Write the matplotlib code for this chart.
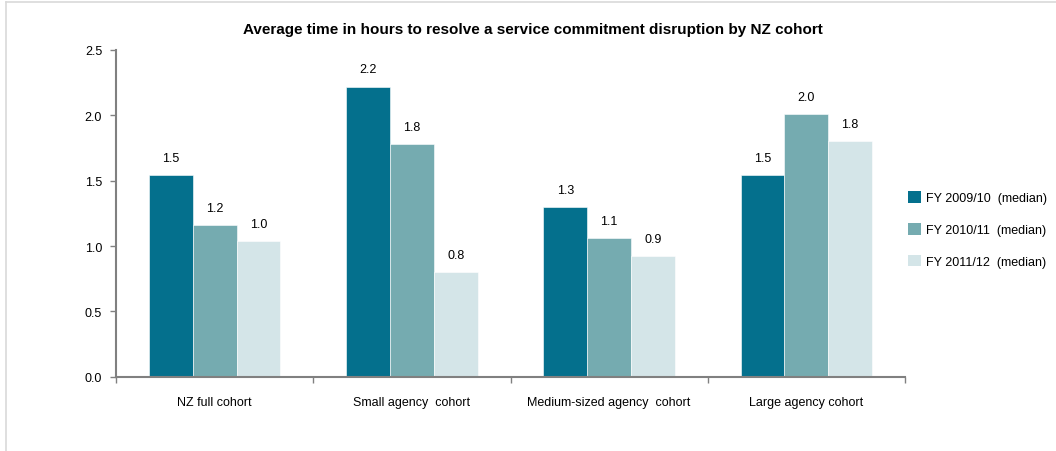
import matplotlib.pyplot as plt
import numpy as np
from matplotlib.patches import Patch
from matplotlib.lines import Line2D

plt.rcParams['font.family'] = ['Liberation Sans', 'DejaVu Sans']

# Median hours per cohort and financial year
cohorts = ['NZ full cohort', 'Small agency  cohort', 'Medium-sized agency  cohort', 'Large agency cohort']
years = ['FY 2009/10  (median)', 'FY 2010/11  (median)', 'FY 2011/12  (median)']
fy0910 = [1.54, 2.22, 1.30, 1.54]
fy1011 = [1.16, 1.78, 1.06, 2.01]
fy1112 = [1.04, 0.80, 0.92, 1.80]
colors = ['#04708d', '#75abb0', '#d4e5e8']

fig = plt.figure(figsize=(10.56, 4.52), dpi=100)
ax = fig.add_axes([116 / 1056, 1 - 377.7 / 452, (905 - 116) / 1056, (377.7 - 51) / 452])

x = np.arange(len(cohorts))
w = 0.222
for i, (vals, c) in enumerate(zip([fy0910, fy1011, fy1112], colors)):
    pos = x + (i - 1) * w
    bars = ax.bar(pos, vals, width=w, color=c, edgecolor='white', linewidth=0.4)
    for b, v in zip(bars, vals):
        ax.annotate(f'{v:.1f}', (b.get_x() + b.get_width() / 2, v), xytext=(0, 8),
                    textcoords='offset points', ha='center', va='bottom', fontsize=9)

ax.set_xlim(-0.5, len(cohorts) - 0.5)
ax.set_ylim(0, 2.5)
ax.set_yticks(np.arange(0, 2.51, 0.5))
ax.set_yticklabels([f'{t:.1f}' for t in np.arange(0, 2.51, 0.5)])

# category boundaries get the tick marks, centres get the labels
ax.set_xticks(np.arange(-0.5, len(cohorts), 1.0))
ax.set_xticklabels([])
ax.set_xticks(x, minor=True)
ax.set_xticklabels(cohorts, minor=True)
ax.tick_params(axis='x', which='minor', length=0, pad=14, labelsize=9)
ax.tick_params(axis='x', which='major', length=4, color='#808080', width=1)
ax.tick_params(axis='y', length=4, color='#808080', width=1, labelsize=9, pad=6)

for s in ['top', 'right']:
    ax.spines[s].set_visible(False)
for s in ['left', 'bottom']:
    ax.spines[s].set_color('#808080')
    ax.spines[s].set_linewidth(1.5)

fig.text(533 / 1056, 1 - 30 / 452, 'Average time in hours to resolve a service commitment disruption by NZ cohort',
         ha='center', va='center', fontsize=11, fontweight='bold')

handles = [Patch(facecolor=c, edgecolor='none') for c in colors]
fig.legend(handles, years, loc='upper left', bbox_to_anchor=(897 / 1056, 1 - 181 / 452),
           frameon=False, fontsize=9, handlelength=1.04, handleheight=1.04,
           handletextpad=0.4, labelspacing=1.5)

# thin frame along top and left of the chart area
fig.add_artist(Line2D([6 / 1056, 1], [1 - 2.5 / 452, 1 - 2.5 / 452], color='#d9d9d9', lw=1.2))
fig.add_artist(Line2D([6 / 1056, 6 / 1056], [0, 1 - 2.5 / 452], color='#d9d9d9', lw=1.2))

fig.savefig('out.png', dpi=100)
